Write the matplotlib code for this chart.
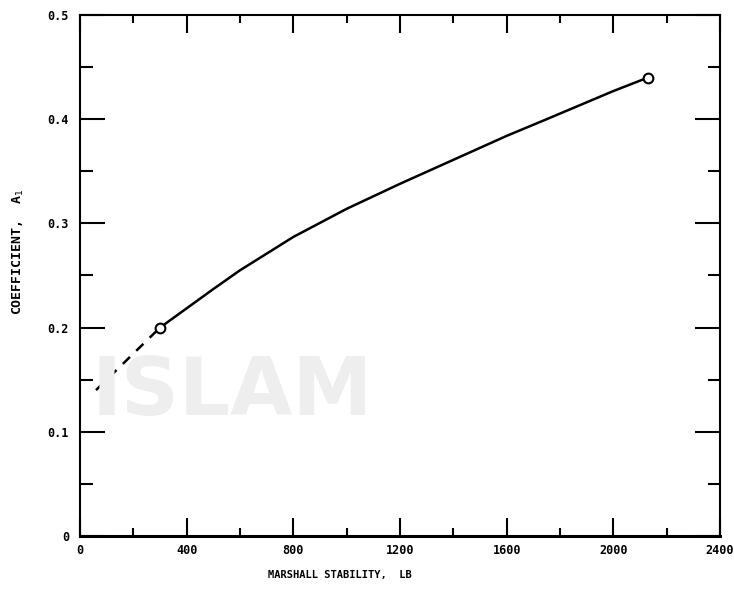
import matplotlib.pyplot as plt
from matplotlib.ticker import MultipleLocator

# values
stability = [300, 500, 600, 800, 1000, 1200, 1400, 1600, 1750, 2000, 2130]
coef = [0.200, 0.237, 0.255, 0.287, 0.314, 0.338, 0.361, 0.384, 0.400, 0.427, 0.440]

ext_stability = [60, 300]      # dashed extrapolation
ext_coef = [0.140, 0.200]

end_x = [300, 2130]            # open circles
end_y = [0.200, 0.440]

xticks = [0, 400, 800, 1200, 1600, 2000, 2400]
xtick_labels = ['0', '400', '800', '1200', '1600', '2000', '2400']
yticks = [0, 0.1, 0.2, 0.3, 0.4, 0.5]
ytick_labels = ['0', '0.1', '0.2', '0.3', '0.4', '0.5']

mono = 'DejaVu Sans Mono'

fig = plt.figure(figsize=(7.34, 5.89), dpi=100)
ax = fig.add_axes([80 / 734, 1 - 536 / 589, 640 / 734, 521 / 589])

# faint watermark from the scan
fig.text(92 / 734, 1 - 415 / 589, 'ISLAM', fontsize=58, color='#eeeeee',
         family='DejaVu Sans', fontweight='bold', zorder=0, ha='left', va='baseline')

ax.plot(stability, coef, color='black', lw=1.8, zorder=3)
ax.plot(ext_stability, ext_coef, color='black', lw=1.8, ls=(0, (4, 3.5)), zorder=3)
ax.plot(end_x, end_y, 'o', ms=7, mfc='white', mec='black', mew=1.5, zorder=4)

ax.set_xlim(0, 2400)
ax.set_ylim(0, 0.5)
ax.set_xticks(xticks)
ax.set_xticklabels(xtick_labels)
ax.set_yticks(yticks)
ax.set_yticklabels(ytick_labels)
ax.xaxis.set_minor_locator(MultipleLocator(200))
ax.yaxis.set_minor_locator(MultipleLocator(0.05))

ax.tick_params(axis='x', which='major', direction='in', length=13, width=1.5,
               top=True, pad=6)
ax.tick_params(axis='x', which='minor', direction='in', length=6, width=1.5, top=True)
ax.tick_params(axis='y', which='major', direction='in', length=18, width=1.5,
               right=True, pad=8)
ax.tick_params(axis='y', which='minor', direction='in', length=9, width=1.5, right=True)

for lab in ax.get_xticklabels() + ax.get_yticklabels():
    lab.set_family(mono)
    lab.set_fontweight('bold')
    lab.set_fontsize(8.5)

for side in ['top', 'left', 'right']:
    ax.spines[side].set_linewidth(1.5)
ax.spines['bottom'].set_linewidth(2.2)
ax.patch.set_alpha(0)

fig.text(268 / 734, 1 - 575 / 589, 'MARSHALL STABILITY,  LB', family=mono,
         fontweight='bold', fontsize=7.5, ha='left', va='center')
fig.text(18 / 734, 1 - 252 / 589, 'COEFFICIENT,  A$_1$', family=mono,
         fontweight='bold', fontsize=9.5, rotation=90, ha='center', va='center')

plt.savefig('out.png', dpi=100)
